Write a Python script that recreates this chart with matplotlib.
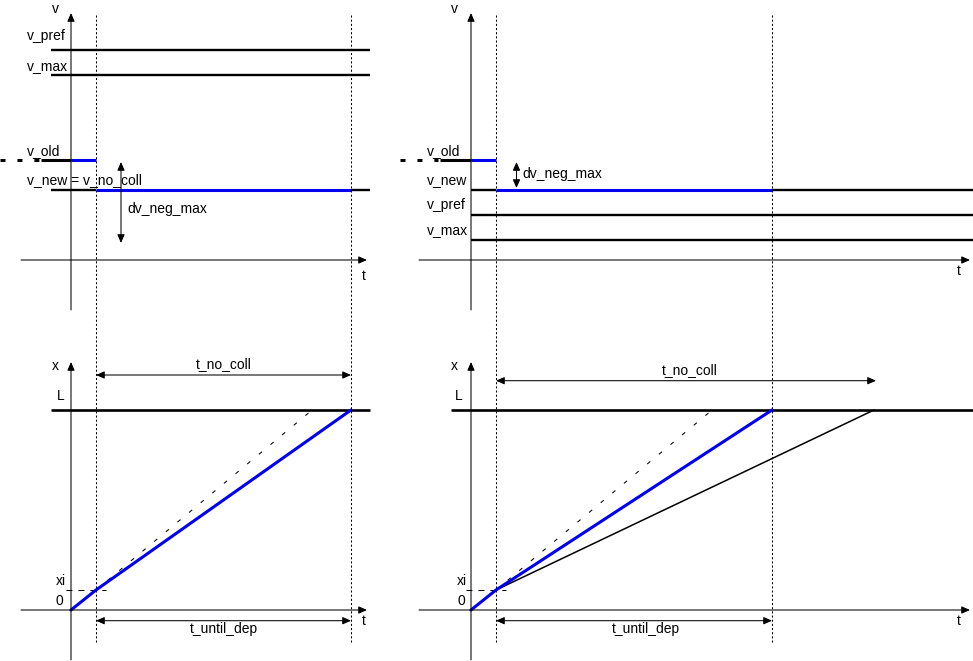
import matplotlib
matplotlib.use('Agg')
from matplotlib import pyplot as plt

plt.rcParams['font.family'] = ['Liberation Sans', 'DejaVu Sans']
plt.rcParams['font.size'] = 10
plt.rcParams['lines.scale_dashes'] = False

W, H = 973, 661

# time marks (t axis unit)
t_i = 1.0
t_dep_a = 11.2
t_dep_b = 12.04
t_nocoll_b = 16.12

# velocity levels, case a (left) and case b (right)
v_old = 10.0
labels_a = ['v_pref', 'v_max']
levels_a = [21.0, 18.5]
v_new_a = 7.0
dv_neg_max_a = 8.3
labels_b = ['v_pref', 'v_max']
levels_b = [4.5, 2.0]
v_new_b = 7.0
dv_neg_max_b = 3.0

# positions
L = 20.0
xi = 2.0
blue_a_t = [0.0, t_i, t_dep_a]
blue_a_x = [0.0, xi, L]
ref_t = [t_i, 9.5]
ref_x = [xi, 19.7]
blue_b_t = [0.0, t_i, t_dep_b]
blue_b_x = [0.0, xi, L]
slow_b_t = [t_i, t_nocoll_b]
slow_b_x = [xi, L]

BLUE = '#0000ee'
fig = plt.figure(figsize=(W / 100, H / 100), dpi=100)


def panel(ox, oy, sx=25.0, sy=10.0):
    ax = fig.add_axes([0, 0, 1, 1])
    ax.set_xlim(-ox / sx, (W - ox) / sx)
    ax.set_ylim(-(H - oy) / sy, oy / sy)
    ax.axis('off')
    ax.patch.set_visible(False)
    return ax


def arrow(ax, p0, p1, style='-|>', lw=0.75, shrink=0):
    ax.annotate('', xy=p1, xytext=p0,
                arrowprops=dict(arrowstyle=style + ',head_length=0.5,head_width=0.22',
                                lw=lw, color='k', mutation_scale=10,
                                shrinkA=shrink, shrinkB=shrink))


def axes_lines(ax, t0, t1, y0, y1):
    arrow(ax, (0, y0), (0, y1))
    arrow(ax, (t0, 0), (t1, 0))


def vdash(ax, t):
    ax.plot([t, t], [24.5, -38.3], color='k', lw=0.75, linestyle=(0, (1.5, 1.5)))


# ---------------- top left: v over t ----------------
ax = panel(71, 260)
axes_lines(ax, -2.0, 11.84, -5.0, 24.7)
vdash(ax, t_i)
vdash(ax, t_dep_a)
for lab, lv, dy in zip(labels_a, levels_a, [1.0, 0.5]):
    ax.plot([-0.8, 11.96], [lv, lv], color='k', lw=1.7, solid_capstyle='butt')
    ax.text(-1.76, lv + dy, lab, va='baseline')
ax.plot([-2.84, -1.28], [v_old, v_old], color='k', lw=2.2, linestyle=(0, (3.6, 8.6)))
ax.plot([-1.2, 0], [v_old, v_old], color='k', lw=2.2, solid_capstyle='butt')
ax.plot([0, t_i], [v_old, v_old], color=BLUE, lw=2.2, solid_capstyle='butt')
ax.plot([-0.8, t_i], [v_new_a, v_new_a], color='k', lw=1.7, solid_capstyle='butt')
ax.plot([t_i, t_dep_a], [v_new_a, v_new_a], color=BLUE, lw=2.2, solid_capstyle='butt')
ax.plot([t_dep_a, 11.96], [v_new_a, v_new_a], color='k', lw=1.7, solid_capstyle='butt')
arrow(ax, (2.0, v_old - 0.2), (2.0, v_old - dv_neg_max_a), style='<|-|>')
ax.text(-1.76, v_old + 0.5, 'v_old', va='baseline')
ax.text(-1.76, v_new_a + 0.6, 'v_new = v_no_coll', va='baseline')
ax.text(2.24, 4.7, 'dv_neg_max', va='baseline')
ax.text(-0.76, 24.7, 'v', va='baseline')
ax.text(11.64, -2.0, 't', va='baseline')

# ---------------- top right: v over t ----------------
ax = panel(471, 260)
axes_lines(ax, -2.08, 19.96, -5.0, 24.7)
vdash(ax, t_i)
vdash(ax, t_dep_b)
for lab, lv in zip(labels_b, levels_b):
    ax.plot([0, 20.08], [lv, lv], color='k', lw=1.7, solid_capstyle='butt')
    ax.text(-1.76, lv + 0.6, lab, va='baseline')
ax.plot([-2.84, -1.32], [v_old, v_old], color='k', lw=2.2, linestyle=(0, (3.6, 8.6)))
ax.plot([-1.24, 0], [v_old, v_old], color='k', lw=2.2, solid_capstyle='butt')
ax.plot([0, t_i], [v_old, v_old], color=BLUE, lw=2.2, solid_capstyle='butt')
ax.plot([0, t_i], [v_new_b, v_new_b], color='k', lw=1.7, solid_capstyle='butt')
ax.plot([t_i, t_dep_b], [v_new_b, v_new_b], color=BLUE, lw=2.2, solid_capstyle='butt')
ax.plot([t_dep_b, 20.08], [v_new_b, v_new_b], color='k', lw=1.7, solid_capstyle='butt')
arrow(ax, (1.82, v_old - 0.2), (1.82, v_old - dv_neg_max_b + 0.2), style='<|-|>')
ax.text(-1.76, v_old + 0.5, 'v_old', va='baseline')
ax.text(-1.76, v_new_b + 0.6, 'v_new', va='baseline')
ax.text(2.04, 8.2, 'dv_neg_max', va='baseline')
ax.text(-0.8, 24.7, 'v', va='baseline')
ax.text(19.44, -1.5, 't', va='baseline')

# ---------------- bottom left: x over t ----------------
ax = panel(71, 610)
axes_lines(ax, -2.0, 11.84, -5.0, 24.8)
ax.plot([-0.8, 11.96], [L, L], color='k', lw=1.9, solid_capstyle='butt')
ax.plot([-0.2, 1.4], [xi, xi], color='k', lw=0.75, linestyle=(0, (4.3, 4.3)))
ax.plot(ref_t, ref_x, color='k', lw=0.75, linestyle=(0, (2.9, 8.0)))
ax.plot(blue_a_t, blue_a_x, color=BLUE, lw=2.2, solid_capstyle='round')
arrow(ax, (t_i, 23.5), (t_dep_a, 23.5), style='<|-|>')
arrow(ax, (t_i, -1.07), (t_dep_a, -1.07), style='<|-|>')
ax.text((t_i + t_dep_a) / 2, 24.2, 't_no_coll', ha='center', va='baseline')
ax.text((t_i + t_dep_a) / 2, -2.3, 't_until_dep', ha='center', va='baseline')
ax.text(-0.76, 24.0, 'x', va='baseline')
ax.text(-0.56, 21.0, 'L', va='baseline')
ax.text(-0.6, 2.5, 'xi', va='baseline')
ax.text(-0.6, 0.5, '0', va='baseline')
ax.text(11.64, -1.5, 't', va='baseline')

# ---------------- bottom right: x over t ----------------
ax = panel(471, 610)
axes_lines(ax, -2.08, 19.96, -5.0, 24.8)
ax.plot([-0.8, 20.08], [L, L], color='k', lw=1.9, solid_capstyle='butt')
ax.plot([-0.2, 1.4], [xi, xi], color='k', lw=0.75, linestyle=(0, (4.3, 4.3)))
ax.plot(ref_t, ref_x, color='k', lw=0.75, linestyle=(0, (2.9, 8.0)))
ax.plot(slow_b_t, slow_b_x, color='k', lw=1.1)
ax.plot(blue_b_t, blue_b_x, color=BLUE, lw=2.2, solid_capstyle='round')
arrow(ax, (t_i, 22.93), (t_nocoll_b + 0.08, 22.93), style='<|-|>')
arrow(ax, (t_i, -1.07), (t_dep_b, -1.07), style='<|-|>')
ax.text(8.76, 23.6, 't_no_coll', ha='center', va='baseline')
ax.text(7.0, -2.3, 't_until_dep', ha='center', va='baseline')
ax.text(-0.8, 24.0, 'x', va='baseline')
ax.text(-0.64, 21.0, 'L', va='baseline')
ax.text(-0.56, 2.5, 'xi', va='baseline')
ax.text(-0.56, 0.5, '0', va='baseline')
ax.text(19.44, -1.5, 't', va='baseline')

fig.savefig('out.png', dpi=100)
